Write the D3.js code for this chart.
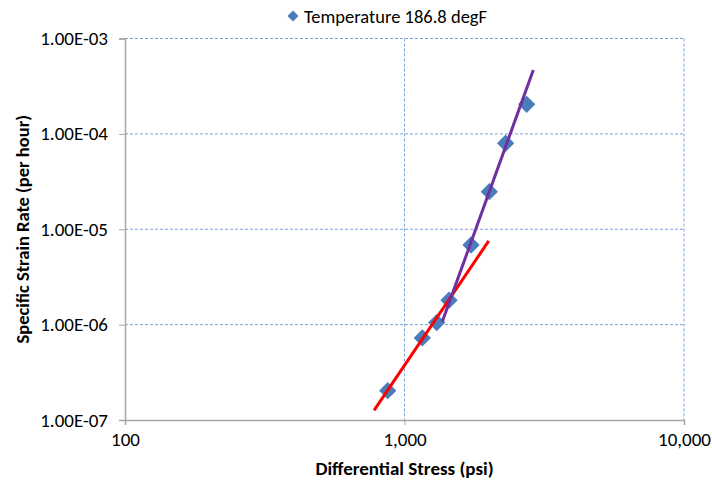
<!DOCTYPE html>
<html>
<head>
<meta charset="utf-8">
<script src="https://cdn.jsdelivr.net/npm/d3@7"></script>
<style>
body { margin: 0; background: #fff; }
text { font-family: Carlito, Calibri, Lato, sans-serif; }
</style>
</head>
<body>
<div id="chart"></div>
<script>
// measured points
var stress = [871, 1158, 1304, 1443, 1730, 2011, 2301, 2736]
var strainRate = [2.03e-7, 7.26e-7, 1.05e-6, 1.80e-6, 6.84e-6, 2.48e-5, 7.97e-5, 2.04e-4]

// trend lines (two end points each)
var redX = [778, 2001]
var redY = [1.26e-7, 7.54e-6]
var purpleX = [1365, 2890]
var purpleY = [1.075e-6, 4.67e-4]

var xTicks = [100, 1000, 10000]
var yTicks = [1e-7, 1e-6, 1e-5, 1e-4, 1e-3]
var seriesName = "Temperature 186.8 degF"

var svgWidth = 712, svgHeight = 487
var margin = {top: 38.5, right: 28, bottom: 67, left: 125}
var chartWidth = svgWidth - margin.left - margin.right
var chartHeight = svgHeight - margin.top - margin.bottom

var svg = d3.select("#chart").append("svg")
  .attr("width", svgWidth)
  .attr("height", svgHeight)

var g = svg.append("g")
  .attr("transform", `translate(${margin.left},${margin.top})`)

var x = d3.scaleLog().domain([100, 10000]).range([0, chartWidth])
var y = d3.scaleLog().domain([1e-7, 1e-3]).range([chartHeight, 0])

// gridlines
g.selectAll(".gy").data(yTicks.slice(1)).enter().append("line")
  .attr("x1", 0).attr("x2", chartWidth)
  .attr("y1", d => y(d)).attr("y2", d => y(d))
  .attr("stroke", "#7aa3d6").attr("stroke-width", 1)
  .attr("stroke-dasharray", "3,2")

g.selectAll(".gx").data(xTicks.slice(1)).enter().append("line")
  .attr("x1", d => x(d)).attr("x2", d => x(d))
  .attr("y1", 0).attr("y2", chartHeight)
  .attr("stroke", "#7aa3d6").attr("stroke-width", 1)
  .attr("stroke-dasharray", "3,2")

// axes
var bottomAxis = d3.axisBottom(x).tickValues(xTicks).tickFormat(d3.format(",")).tickSize(5).tickPadding(8)
var leftAxis = d3.axisLeft(y).tickValues(yTicks).tickFormat(d => d.toExponential(2).toUpperCase().replace(/E-(\d)$/, "E-0$1")).tickSize(6).tickPadding(11)

var xa = g.append("g").attr("transform", `translate(0,${chartHeight})`).call(bottomAxis)
var ya = g.append("g").call(leftAxis)
;[xa, ya].forEach(function(a) {
  a.select(".domain").attr("stroke", "#a6a6a6").attr("stroke-width", 1.5)
  a.selectAll(".tick line").attr("stroke", "#a6a6a6")
  a.selectAll(".tick text").attr("font-size", 19).attr("fill", "#000")
})

// markers (diamonds)
var sym = d3.symbol().type(d3.symbolSquare).size(150)
g.selectAll(".pt").data(d3.zip(stress, strainRate)).enter().append("path")
  .attr("d", sym)
  .attr("transform", d => `translate(${x(d[0])},${y(d[1])}) rotate(45)`)
  .attr("fill", "#4a7ebb")

// trend lines drawn over the markers
var line = d3.line().x(d => x(d[0])).y(d => y(d[1]))
g.append("path").datum(d3.zip(redX, redY))
  .attr("d", line).attr("stroke", "#ff0000").attr("stroke-width", 3).attr("fill", "none")
g.append("path").datum(d3.zip(purpleX, purpleY))
  .attr("d", line).attr("stroke", "#7030a0").attr("stroke-width", 3).attr("fill", "none")

// axis titles
svg.append("text")
  .attr("transform", `translate(${margin.left + chartWidth / 2},${svgHeight - 12})`)
  .attr("text-anchor", "middle").attr("font-size", 19).attr("font-weight", "bold")
  .text("Differential Stress (psi)")

svg.append("text")
  .attr("transform", `translate(29,${margin.top + chartHeight / 2}) rotate(-90)`)
  .attr("text-anchor", "middle").attr("font-size", 18.5).attr("font-weight", "bold")
  .text("Specific Strain Rate (per hour)")

// legend
var leg = svg.append("g").attr("transform", "translate(293,16)")
leg.append("path").attr("d", d3.symbol().type(d3.symbolSquare).size(60))
  .attr("transform", "rotate(45)").attr("fill", "#4a7ebb")
leg.append("text").attr("x", 11).attr("y", 6.5).attr("font-size", 18.5).text(seriesName)
</script>
</body>
</html>
